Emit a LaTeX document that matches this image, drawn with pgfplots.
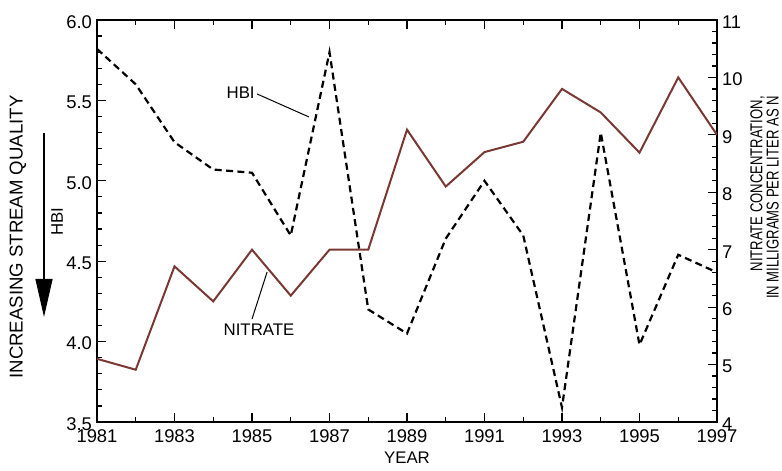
\documentclass[border=0pt]{standalone}
\usepackage{fontspec}
\setmainfont{Liberation Sans}
\newfontfamily\narrowfont[FakeStretch=0.76]{Liberation Sans}
\usepackage{pgfplots}
\pgfplotsset{compat=1.18}
\usetikzlibrary{arrows.meta}
\definecolor{nitrate}{RGB}{122,56,52}

\begin{document}
\begin{tikzpicture}[font=\fontsize{8.4}{10}\selectfont]
\pgfplotsset{
  common/.style={
    width=310pt, height=201pt, scale only axis,
    xmin=1981, xmax=1997,
    tick align=inside,
    major tick length=4.5pt, minor tick length=2.5pt,
    every tick/.style={black, line width=0.6pt},
    axis line style={line width=0.75pt},
    /pgf/number format/assume math mode=true,
    tick label style={font=\fontsize{9.2}{11}\selectfont},
  }
}
% HBI, left axis
\begin{axis}[common,
  ymin=3.5, ymax=6.0,
  xtick={1981,1983,1985,1987,1989,1991,1993,1995,1997},
  minor xtick={1982,1984,1986,1988,1990,1992,1994,1996},
  xtick pos=both, ytick pos=left,
  ytick={3.5,4,4.5,5,5.5,6}, minor y tick num=4,
  xticklabel style={/pgf/number format/1000 sep={}, yshift=-0.5pt},
  yticklabel style={/pgf/number format/fixed, /pgf/number format/fixed zerofill,
    /pgf/number format/precision=1, xshift=1pt, yshift=-1pt},
]
\addplot[black, line width=1.1pt, dash pattern=on 3.5pt off 2.2pt] coordinates {
  (1981,5.82) (1982,5.60) (1983,5.24) (1984,5.07) (1985,5.05) (1986,4.66)
  (1987,5.80) (1988,4.20) (1989,4.05) (1990,4.64) (1991,5.00) (1992,4.66)
  (1993,3.59) (1994,5.30) (1995,3.98) (1996,4.54) (1997,4.43)
};
\node[anchor=east, inner sep=1pt] at (axis cs:1985.13,5.55) {HBI};
\draw[line width=0.5pt] (axis cs:1985.13,5.54) -- (axis cs:1986.47,5.397);
\node[anchor=north, inner sep=1.5pt, xshift=3.5pt, yshift=-0.5pt] at (axis cs:1985.0,4.14) {NITRATE};
\draw[line width=0.5pt] (axis cs:1985.0,4.14) -- (axis cs:1985.39,4.433);
\end{axis}
% Nitrate, right axis
\begin{axis}[common,
  ymin=4, ymax=11,
  axis y line*=right, axis x line=none,
  ytick={4,5,6,7,8,9,10,11}, minor y tick num=4,
  yticklabel style={xshift=-1pt, yshift=-1pt},
]
\addplot[nitrate, line width=1pt] coordinates {
  (1981,5.10) (1982,4.91) (1983,6.71) (1984,6.10) (1985,7.00) (1986,6.20)
  (1987,7.00) (1988,7.00) (1989,9.09) (1990,8.10) (1991,8.70) (1992,8.88)
  (1993,9.80) (1994,9.39) (1995,8.69) (1996,10.00) (1997,9.00)
};
\end{axis}
% labels outside the axis box
\node at (155pt,-18pt) {YEAR};
\node[rotate=90, font=\fontsize{9.3}{11}\selectfont] at (-39.5pt,92.5pt) {INCREASING STREAM QUALITY};
\draw[line width=0.6pt, -{Triangle[length=19pt,width=8.5pt]}] (-26.5pt,144.5pt) -- (-26.5pt,52.5pt);
\node[rotate=90] at (-20pt,100pt) {HBI};
\node[rotate=90, align=right, inner sep=0pt, font=\narrowfont\fontsize{8.6}{6.9}\selectfont] at (333.75pt,112.25pt)
  {NITRATE CONCENTRATION,\\IN MILLIGRAMS PER LITER AS N};
\path (-48.5pt,-21.5pt) rectangle (342.5pt,211pt);
\end{tikzpicture}
\end{document}
